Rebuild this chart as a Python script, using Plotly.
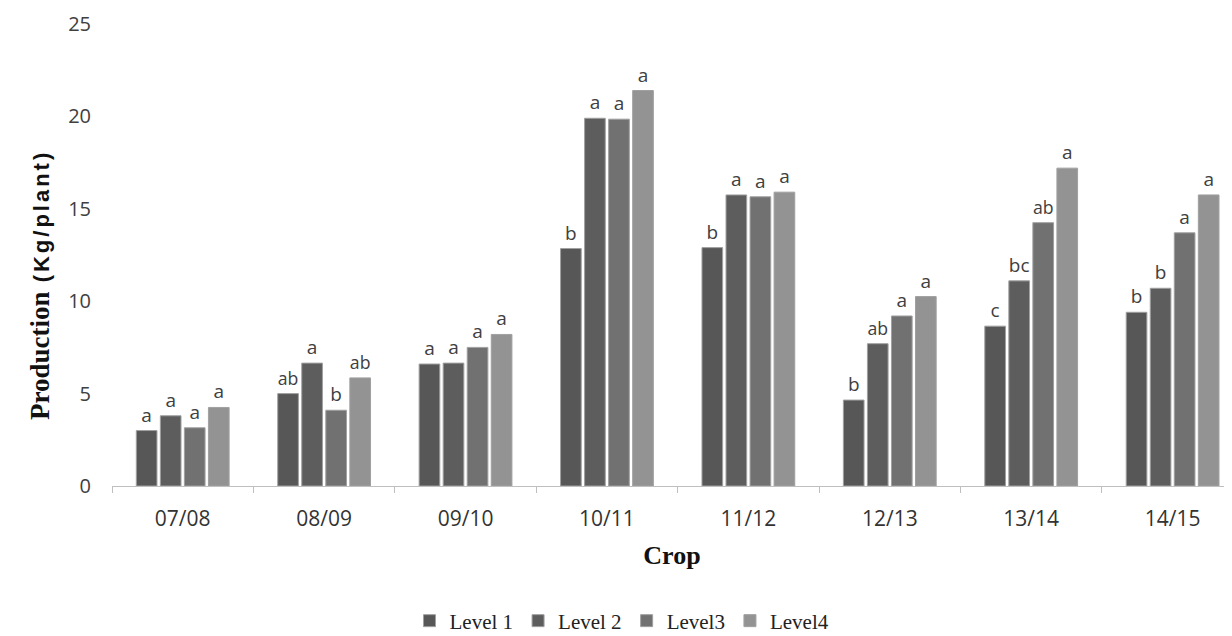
import plotly.graph_objects as go

crops = ["07/08", "08/09", "09/10", "10/11", "11/12", "12/13", "13/14", "14/15"]
series_names = ["Level 1", "Level 2", "Level3", "Level4"]
level1 = [3.0, 5.0, 6.6, 12.85, 12.9, 4.65, 8.65, 9.4]
level2 = [3.8, 6.65, 6.65, 19.9, 15.75, 7.7, 11.1, 10.7]
level3 = [3.15, 4.1, 7.5, 19.85, 15.65, 9.2, 14.25, 13.7]
level4 = [4.25, 5.85, 8.2, 21.4, 15.9, 10.25, 17.2, 15.75]
letters1 = ["a", "ab", "a", "b", "b", "b", "c", "b"]
letters2 = ["a", "a", "a", "a", "a", "ab", "bc", "b"]
letters3 = ["a", "b", "a", "a", "a", "a", "ab", "a"]
letters4 = ["a", "ab", "a", "a", "a", "a", "a", "a"]
colors = ["#575757", "#5d5d5d", "#717171", "#939393"]
y_ticks = [0, 5, 10, 15, 20, 25]

# plot area (in figure coords): left 104, width 1120, top 16, height 462
PL, PW, PT, PH = 104, 1120, 16, 462

fig = go.Figure()
for name, vals, labs, col in zip(series_names, [level1, level2, level3, level4],
                                 [letters1, letters2, letters3, letters4], colors):
    fig.add_trace(go.Bar(
        name=name, x=crops, y=vals, text=labs, textposition="outside",
        textfont=dict(family="Open Sans", size=19, color="#404040"),
        marker=dict(color=col, line=dict(color="#a0a0a0", width=1)),
        cliponaxis=False,
    ))

fig.update_layout(
    width=1224, height=628,
    margin=dict(l=PL, r=0, t=PT, b=628 - PT - PH, autoexpand=False),
    paper_bgcolor="white", plot_bgcolor="white",
    barmode="group", bargap=0.32, bargroupgap=0.14,
    showlegend=True,
    legend=dict(orientation="h", x=(622 - 112) / PW, xanchor="center",
                y=(486 - 621) / PH, yanchor="middle",
                font=dict(family="Liberation Serif", size=21, color="#222"),
                itemwidth=30, traceorder="normal"),
    xaxis=dict(
        range=[-0.5, 7.42], showgrid=False, showline=True, linecolor="#bfbfbf",
        ticks="outside", tickson="boundaries", ticklen=6, tickcolor="#bfbfbf",
        tickfont=dict(family="Open Sans", size=21, color="#333"),
        ticklabelstandoff=14, automargin=False,
        title=dict(text="<b>Crop</b>", font=dict(family="Liberation Serif", size=26, color="#111"),
                   standoff=14),
    ),
    yaxis=dict(
        range=[0, 25], tickvals=y_ticks, showgrid=False, showline=False, zeroline=False,
        tickfont=dict(family="Open Sans", size=20, color="#404040"),
        ticklabelstandoff=20, automargin=False,
    ),
    annotations=[dict(
        text="<b><span style='font-family:Liberation Serif;font-size:27px'>Production</span>"
             "<span style='font-family:Liberation Sans;font-size:22px;letter-spacing:3px'> (Kg/plant)</span></b>",
        textangle=-90, xref="paper", yref="paper",
        x=(40 - 112) / PW, y=(486 - 285) / PH, xanchor="center", yanchor="middle",
        showarrow=False, font=dict(color="#111"),
    )],
)

fig.write_html("out.html")
